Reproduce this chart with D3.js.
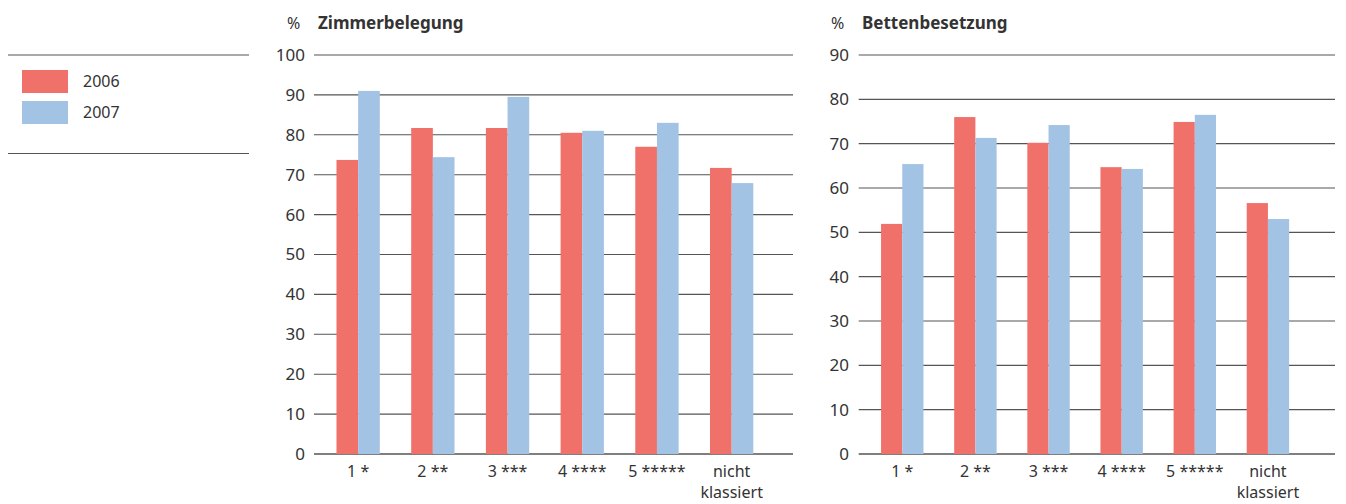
<!DOCTYPE html>
<html>
<head>
<meta charset="utf-8">
<script src="https://cdn.jsdelivr.net/npm/d3@7"></script>
<style>
  body { margin: 0; background: #fff; }
  text { font-family: "Noto Sans", "Open Sans", sans-serif; fill: #333; }
</style>
</head>
<body>
<svg id="chart" width="1346" height="504"></svg>
<script>
const CATEGORIES = ['1 *', '2 **', '3 ***', '4 ****', '5 *****', 'nicht\nklassiert'];
const YEARS = ['2006', '2007'];
const COLORS = ['#f0706a', '#a3c3e5'];

// Zimmerbelegung (%)
const ROOMS_2006 = [73.7, 81.7, 81.7, 80.5, 77.0, 71.7];
const ROOMS_2007 = [91.0, 74.4, 89.5, 81.0, 83.0, 67.9];
const ROOMS_TICKS = [0, 10, 20, 30, 40, 50, 60, 70, 80, 90, 100];

// Bettenbesetzung (%)
const BEDS_2006 = [51.9, 76.0, 70.2, 64.7, 74.9, 56.6];
const BEDS_2007 = [65.4, 71.3, 74.2, 64.3, 76.5, 53.0];
const BEDS_TICKS = [0, 10, 20, 30, 40, 50, 60, 70, 80, 90];

const svg = d3.select('#chart');

function drawPanel(opts) {
  const g = svg.append('g');
  const y = d3.scaleLinear().domain([0, opts.max]).range([454, 55]);
  const x = d3.scaleBand().domain(CATEGORIES).range(opts.bandRange)
    .paddingInner(0.42).paddingOuter(0.21);
  const xs = d3.scaleBand().domain(YEARS).range([0, x.bandwidth()]);

  // gridlines
  g.selectAll('line.grid')
    .data(opts.ticks)
    .join('line')
    .attr('x1', opts.gridRange[0])
    .attr('x2', opts.gridRange[1])
    .attr('y1', d => y(d))
    .attr('y2', d => y(d))
    .attr('stroke', '#555')
    .attr('stroke-width', d => d === 0 ? 1.6 : 1.1);

  // y axis labels
  const yAxis = d3.axisLeft(y).tickValues(opts.ticks).tickSize(0).tickPadding(0);
  const ya = g.append('g')
    .attr('transform', `translate(${opts.labelX},0)`)
    .call(yAxis);
  ya.select('.domain').remove();
  ya.selectAll('text')
    .attr('font-size', 17)
    .attr('font-family', '"Noto Sans", sans-serif')
    .attr('fill', '#333');

  const series = [opts.v2006, opts.v2007];
  series.forEach((vals, si) => {
    g.selectAll(`rect.s${si}`)
      .data(vals)
      .join('rect')
      .attr('x', (d, i) => x(CATEGORIES[i]) + xs(YEARS[si]))
      .attr('y', d => y(d))
      .attr('width', xs.bandwidth())
      .attr('height', d => y(0) - y(d))
      .attr('fill', COLORS[si]);
  });

  // x labels (one text per line so the lines don't share a box)
  CATEGORIES.forEach(d => {
    d.split('\n').forEach((p, k) => {
      g.append('text')
        .attr('text-anchor', 'middle')
        .attr('font-size', 16)
        .attr('x', x(d) + x.bandwidth() / 2)
        .attr('y', 477 + k * 21)
        .text(p);
    });
  });

  // title
  g.append('text')
    .attr('x', opts.pctX)
    .attr('y', 29)
    .attr('font-size', 16)
    .text('%');
  g.append('text')
    .attr('x', opts.titleX)
    .attr('y', 29)
    .attr('font-size', 17)
    .attr('font-weight', 'bold')
    .attr('font-family', '"Open Sans", sans-serif')
    .attr('fill', '#222')
    .text(opts.title);
}

drawPanel({
  title: 'Zimmerbelegung', max: 100, ticks: ROOMS_TICKS,
  v2006: ROOMS_2006, v2007: ROOMS_2007,
  bandRange: [320.8, 769], gridRange: [314, 793],
  labelX: 305, pctX: 287, titleX: 318
});

drawPanel({
  title: 'Bettenbesetzung', max: 90, ticks: BEDS_TICKS,
  v2006: BEDS_2006, v2007: BEDS_2007,
  bandRange: [865.7, 1304.5], gridRange: [858.7, 1335],
  labelX: 849, pctX: 831, titleX: 862
});

// legend
const leg = svg.append('g');
leg.selectAll('line')
  .data([55, 153.5])
  .join('line')
  .attr('x1', 8).attr('x2', 249)
  .attr('y1', d => d).attr('y2', d => d)
  .attr('stroke', '#555').attr('stroke-width', 1.1);
YEARS.forEach((yr, i) => {
  leg.append('rect')
    .attr('x', 22).attr('y', 70 + i * 31)
    .attr('width', 46).attr('height', 23)
    .attr('fill', COLORS[i]);
  leg.append('text')
    .attr('x', 83).attr('y', 87 + i * 31)
    .attr('font-size', 16)
    .text(yr);
});
</script>
</body>
</html>
